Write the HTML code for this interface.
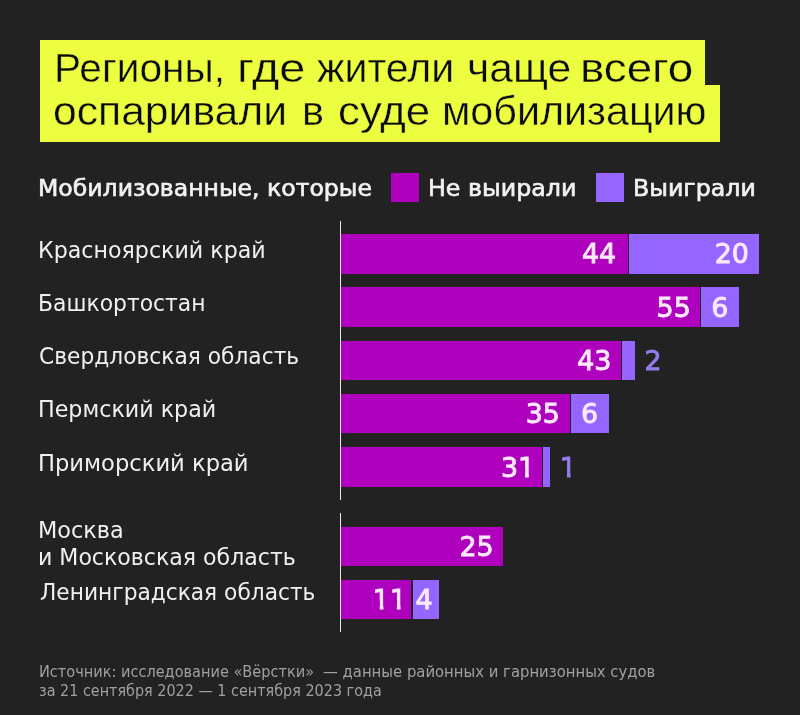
<!DOCTYPE html>
<html lang="ru">
<head>
<meta charset="utf-8">
<title>Регионы, где жители чаще всего оспаривали в суде мобилизацию</title>
<style>
html,body{margin:0;padding:0;}
body{width:800px;height:715px;background:#222222;overflow:hidden;position:relative;font-family:"DejaVu Sans","Liberation Sans",sans-serif;}
div{position:absolute;}
.yl{background:#ecfe3f;}
.tx{white-space:nowrap;transform-origin:0 0;}
.t{font-family:"Liberation Sans",sans-serif;font-size:40.3px;line-height:44px;color:#0a0a0a;-webkit-text-stroke:0.4px #ecfe3f;}
.lab{font-size:23.3px;line-height:28px;color:#f0f0f0;}
.leg{font-size:22.8px;line-height:28px;color:#f2f2f2;-webkit-text-stroke:0.65px #f2f2f2;}
.n{font-size:26.9px;line-height:40px;color:#f9e9fa;-webkit-text-stroke:0.9px #f9e9fa;}
.n i{font-style:normal;display:inline-block;clip-path:polygon(0 0,63% 0,63% 100%,42% 100%,42% 50%,0 50%);}
.n.v{color:#957bee;-webkit-text-stroke:0.9px #957bee;}
.ft{font-size:15.4px;line-height:19px;color:#a0a0a0;}
.m{background:#ae00bd;}
.p{background:#9466ff;}
.ax{left:339.7px;width:1.4px;background:#f3e3f5;}
</style>
</head>
<body>
<div class="yl" style="left:39.8px;top:39.7px;width:665.3px;height:46px;"></div>
<div class="yl" style="left:39.8px;top:84.9px;width:680.4px;height:56.9px;"></div>
<div class="m" style="left:391.1px;top:173.3px;width:28.3px;height:28.4px;"></div>
<div class="p" style="left:596.1px;top:173.3px;width:28.3px;height:28.4px;"></div>
<div class="ax" style="top:220.7px;height:279.3px;"></div>
<div class="ax" style="top:513.1px;height:118.6px;"></div>

<div class="m" style="left:341px;top:233.6px;width:287.3px;height:40px;"></div>
<div class="p" style="left:629.3px;top:233.6px;width:129.5px;height:40px;"></div>
<div class="m" style="left:341px;top:287.4px;width:359px;height:39.9px;"></div>
<div class="p" style="left:701px;top:287.4px;width:37.9px;height:39.9px;"></div>
<div class="m" style="left:341px;top:340.6px;width:280px;height:39.8px;"></div>
<div class="p" style="left:622.4px;top:340.6px;width:12.9px;height:39.8px;"></div>
<div class="m" style="left:341px;top:393.7px;width:229px;height:39.8px;"></div>
<div class="p" style="left:571.2px;top:393.7px;width:38.1px;height:39.8px;"></div>
<div class="m" style="left:341px;top:447.2px;width:201.1px;height:39.9px;"></div>
<div class="p" style="left:543.1px;top:447.2px;width:7.2px;height:39.9px;"></div>
<div class="m" style="left:341px;top:526.7px;width:161.6px;height:39.3px;"></div>
<div class="m" style="left:341px;top:579.6px;width:70px;height:39.6px;"></div>
<div class="p" style="left:412.8px;top:579.6px;width:25.8px;height:39.6px;"></div>
<div id="t1a" class="tx t" style="left:54.25px;top:46.9px;transform:scaleX(1.0088);">Регионы,</div>
<div id="t1b" class="tx t" style="left:236.77px;top:46.9px;transform:scaleX(1.1619);">где</div>
<div id="t1c" class="tx t" style="left:316.5px;top:46.9px;transform:scaleX(1.0195);">жители</div>
<div id="t1d" class="tx t" style="left:466.55px;top:46.9px;transform:scaleX(1.057);">чаще</div>
<div id="t1e" class="tx t" style="left:579.85px;top:46.9px;transform:scaleX(1.1354);">всего</div>
<div id="t2a" class="tx t" style="left:53.03px;top:90px;transform:scaleX(1.0585);">оспаривали</div>
<div id="t2b" class="tx t" style="left:301.65px;top:90px;transform:scaleX(1.0281);">в</div>
<div id="t2c" class="tx t" style="left:337.51px;top:90px;transform:scaleX(1.0863);">суде</div>
<div id="t2d" class="tx t" style="left:442.2px;top:90px;transform:scaleX(1.0235);">мобилизацию</div>
<div id="g1" class="tx leg" style="left:38.12px;top:173.5px;transform:scaleX(1.0333);">Мобилизованные, которые</div>
<div id="g2" class="tx leg" style="left:428.11px;top:173.5px;transform:scaleX(1.042);">Не выирали</div>
<div id="g3" class="tx leg" style="left:633.11px;top:173.5px;transform:scaleX(1.0381);">Выиграли</div>
<div id="l1" class="tx lab" style="left:38.26px;top:235.71px;transform:scaleX(0.9503);">Красноярский край</div>
<div id="l2" class="tx lab" style="left:38.24px;top:288.71px;transform:scaleX(0.9389);">Башкортостан</div>
<div id="l3" class="tx lab" style="left:39.11px;top:342.21px;transform:scaleX(0.9338);">Свердловская область</div>
<div id="l4" class="tx lab" style="left:38.29px;top:395.4px;transform:scaleX(0.9529);">Пермский край</div>
<div id="l5" class="tx lab" style="left:38.04px;top:448.5px;transform:scaleX(0.9707);">Приморский край</div>
<div id="l6" class="tx lab" style="left:38.16px;top:516.3px;transform:scaleX(0.9612);">Москва</div>
<div id="l7" class="tx lab" style="left:38.27px;top:542.71px;transform:scaleX(0.9468);">и Московская область</div>
<div id="l8" class="tx lab" style="left:39.74px;top:578.21px;transform:scaleX(0.9324);">Ленинградская область</div>
<div id="n1a" class="tx n" style="left:582px;top:234.31px;">44</div>
<div id="n1b" class="tx n" style="left:714.75px;top:234.31px;">20</div>
<div id="n2a" class="tx n" style="left:656.55px;top:288.06px;">55</div>
<div id="n2b" class="tx n" style="left:711.3px;top:288.06px;">6</div>
<div id="n3a" class="tx n" style="left:577.25px;top:341.21px;">43</div>
<div id="n3b" class="tx n v" style="left:644.55px;top:341.21px;">2</div>
<div id="n4a" class="tx n" style="left:525.7px;top:394.31px;">35</div>
<div id="n4b" class="tx n" style="left:580.95px;top:394.31px;">6</div>
<div id="n5a" class="tx n" style="left:500.9px;top:447.86px;">3<i>1</i></div>
<div id="n5b" class="tx n v" style="left:559.75px;top:447.86px;"><i>1</i></div>
<div id="n6a" class="tx n" style="left:459.5px;top:527.06px;">25</div>
<div id="n7a" class="tx n" style="left:372.6px;top:580.1px;"><i>1</i><i>1</i></div>
<div id="n7b" class="tx n" style="left:415.5px;top:580.1px;">4</div>
<div id="f1a" class="tx ft" style="left:38.53px;top:663px;transform:scaleX(0.9436);">Источник: исследование «Вёрстки»</div>
<div id="f1b" class="tx ft" style="left:323.1px;top:663px;transform:scaleX(0.9642);">— данные районных и гарнизонных судов</div>
<div id="f2" class="tx ft" style="left:38.54px;top:682px;transform:scaleX(0.934);">за 21 сентября 2022 — 1 сентября 2023 года</div>
</body>
</html>
